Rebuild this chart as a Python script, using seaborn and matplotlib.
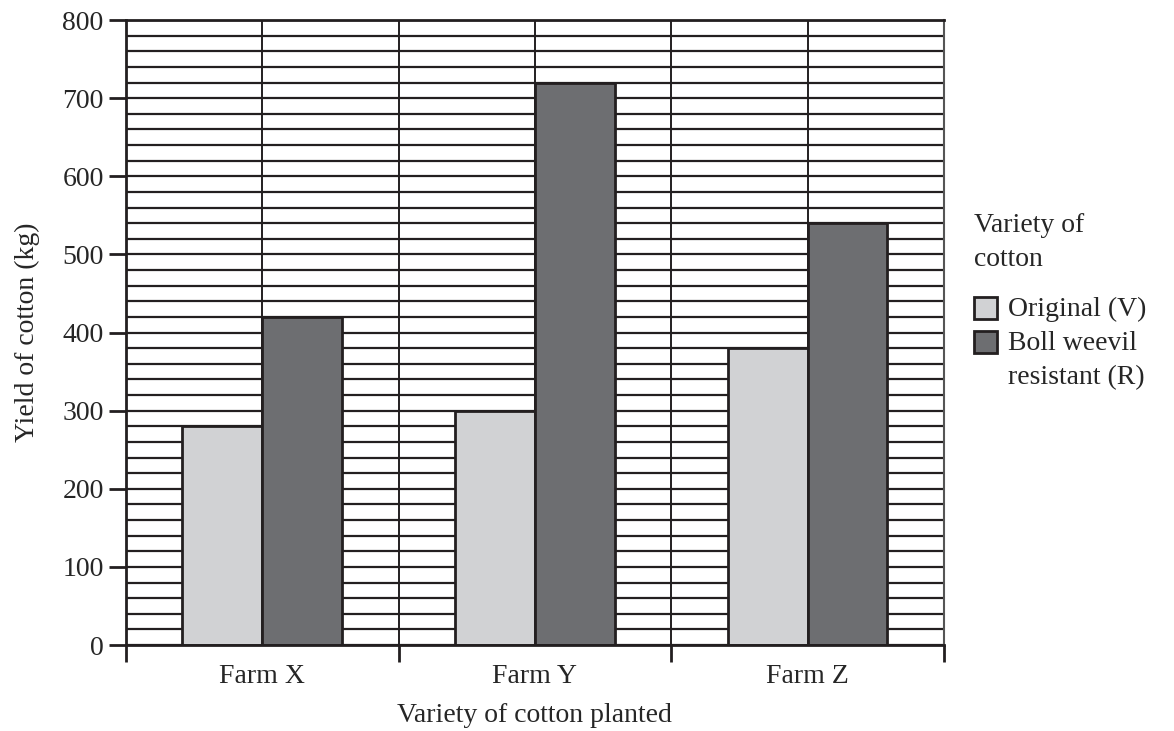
import pandas as pd
import matplotlib
matplotlib.use("Agg")
import matplotlib.pyplot as plt
import seaborn as sns
from matplotlib.ticker import MultipleLocator, FixedLocator

# Data
farms = ["Farm X", "Farm Y", "Farm Z"]
original_v = [280, 300, 380]
resistant_r = [420, 720, 540]
varieties = ["Original (V)", "Boll weevil\nresistant (R)"]

data = pd.DataFrame({
    "Farm": farms * 2,
    "Yield": original_v + resistant_r,
    "Variety": [varieties[0]] * 3 + [varieties[1]] * 3,
})

sns.set_style("white")
plt.rcParams["font.family"] = ["Liberation Serif", "DejaVu Serif"]
plt.rcParams["font.size"] = 20

fig = plt.figure(figsize=(11.74, 7.31), dpi=100)
ax = fig.add_axes([0.1073, 0.1176, 0.804 - 0.1073, 0.9726 - 0.1176])

ink = "#231f20"
sns.barplot(data=data, x="Farm", y="Yield", hue="Variety", order=farms,
            hue_order=varieties, palette=["#d1d2d4", "#6d6e71"],
            width=0.586, edgecolor=ink, linewidth=2, saturation=1,
            ax=ax, legend=True)

ax.set_axisbelow(True)
ax.set_xlim(-0.5, 2.5)
ax.set_ylim(0, 800)

# y grid: major every 100, minor every 20
ax.yaxis.set_major_locator(MultipleLocator(100))
ax.yaxis.set_minor_locator(MultipleLocator(20))
ax.grid(axis="y", which="both", color=ink, linewidth=1.6)
ax.tick_params(axis="y", which="major", length=12, width=2, color=ink,
               direction="out", left=True, labelsize=20, pad=4)
ax.tick_params(axis="y", which="minor", length=0)

# x: labels at centers, ticks at boundaries
ax.xaxis.set_minor_locator(FixedLocator([-0.5, 0.5, 1.5, 2.5]))
ax.grid(axis="x", which="both", color=ink, linewidth=1.4)
ax.tick_params(axis="x", which="major", length=0, labelsize=20, pad=14)
ax.tick_params(axis="x", which="minor", length=12, width=2, color=ink,
               direction="out", bottom=True)

for side in ["left", "bottom", "top"]:
    ax.spines[side].set_color(ink)
    ax.spines[side].set_linewidth(2)
ax.spines["right"].set_color("#555555")
ax.spines["right"].set_linewidth(1.5)

ax.set_xlabel("Variety of cotton planted", fontsize=20, labelpad=10)
ax.set_ylabel("Yield of cotton (kg)", fontsize=20, labelpad=16)

leg = ax.legend(title="Variety of\ncotton", loc="upper left",
                bbox_to_anchor=(0.830, 0.708), bbox_transform=fig.transFigure,
                frameon=False, fontsize=20, title_fontsize=20,
                handlelength=0.82, handleheight=0.82, handletextpad=0.4,
                labelspacing=0.32, borderaxespad=0, borderpad=0)
leg._legend_box.align = "left"
leg._legend_box.sep = 18
for t in leg.get_texts() + [leg.get_title()]:
    t.set_linespacing(1.45)
# square sits beside the first line of each label
for col in leg._legend_handle_box.get_children():
    for row in col.get_children():
        row.align = "top"

fig.savefig("out.png", dpi=100)
